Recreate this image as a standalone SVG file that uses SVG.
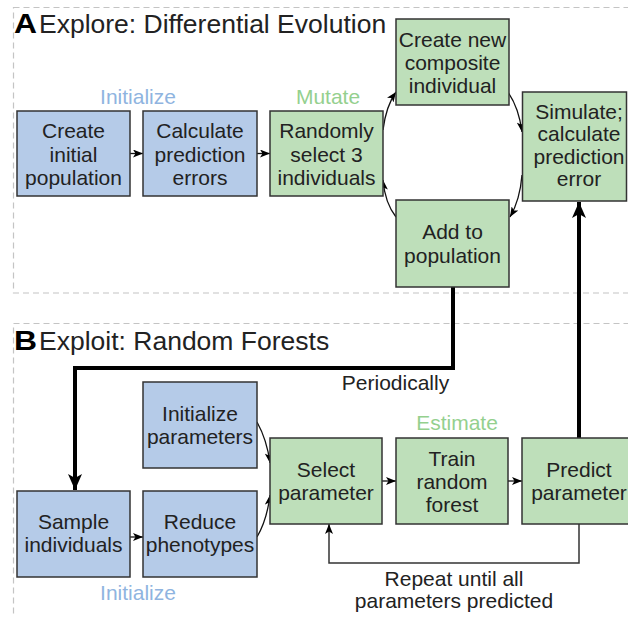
<svg xmlns="http://www.w3.org/2000/svg" width="628" height="617" viewBox="0 0 628 617">
<style>
text{font-family:"Liberation Sans",Arial,sans-serif;font-size:21px;fill:#222;text-anchor:middle}
.title{font-size:26.5px;text-anchor:start}
.lbl{font-weight:bold;font-size:27px;text-anchor:start;fill:#000}
.blue{fill:#b5cbe8;stroke:#333;stroke-width:1.5}
.green{fill:#bedfba;stroke:#333;stroke-width:1.5}
.frame{fill:none;stroke:#c4c4c4;stroke-width:1.2;stroke-dasharray:6 4}
.thin{fill:none;stroke:#111;stroke-width:1.3;marker-end:url(#ah)}
.thick{fill:none;stroke:#000;stroke-width:4;marker-end:url(#ahb)}
.loop{fill:none;stroke:#333;stroke-width:1.5;marker-end:url(#ah)}
.bl{fill:#8fb4e0}
.gl{fill:#94d08e}
</style>
<defs>
<marker id="ah" viewBox="0 0 10 8" refX="10" refY="4" markerWidth="10" markerHeight="8" markerUnits="userSpaceOnUse" orient="auto">
<path d="M0,0 L10,4 L0,8 L2.5,4 z" fill="#000"/>
</marker>
<marker id="ahb" viewBox="0 0 16 14" refX="16" refY="7" markerWidth="16" markerHeight="14" markerUnits="userSpaceOnUse" orient="auto">
<path d="M0,0 L16,7 L0,14 L4,7 z" fill="#000"/>
</marker>
</defs>
<g id="frames">
<rect class="frame" x="13.5" y="7.5" width="640" height="285.5"/>
<rect class="frame" x="13.5" y="323.5" width="640" height="320"/>
<text class="lbl" x="14" y="33" textLength="23" lengthAdjust="spacingAndGlyphs">A</text>
<text class="title" x="39" y="33">Explore: Differential Evolution</text>
<text class="lbl" x="14" y="350" textLength="23" lengthAdjust="spacingAndGlyphs">B</text>
<text class="title" x="39" y="350">Exploit: Random Forests</text>
</g>
<g id="labels">
<text class="bl" x="138" y="104">Initialize</text>
<text class="gl" x="328" y="104">Mutate</text>
<text class="gl" x="457" y="430">Estimate</text>
<text class="bl" x="138" y="600">Initialize</text>
<text x="395.5" y="390">Periodically</text>
<text x="454" y="586">Repeat until all</text>
<text x="454" y="608">parameters predicted</text>
</g>
<g id="connectors">
<path class="thin" d="M130,153.5 H143"/>
<path class="thin" d="M257,153.5 H270"/>
<path class="thin" d="M383,130 Q386,106 396,92"/>
<path class="thin" d="M508,92 Q519,108 522,132"/>
<path class="thin" d="M522,175 Q520,200 510,217"/>
<path class="thin" d="M396,217 Q385,203 383,180"/>
<path class="thick" d="M453,287 V368 H75 V490"/>
<path class="thick" d="M579,438 V202"/>
<path class="thin" d="M130,537 H143"/>
<path class="thin" d="M382,481 H396"/>
<path class="thin" d="M508,481 H522"/>
<path class="thin" d="M257,422 Q267,440 270,463"/>
<path class="thin" d="M257,537 Q267,520 270,495"/>
<path class="loop" d="M579,524 V563 H329 V524"/>
</g>
<g id="n-create-initial">
<rect class="blue" x="17" y="111" width="113" height="85"/>
<text x="73.5" y="138">Create</text>
<text x="73.5" y="161.5">initial</text>
<text x="73.5" y="185">population</text>
</g>
<g id="n-calc-errors">
<rect class="blue" x="143" y="111" width="114" height="85"/>
<text x="200" y="138">Calculate</text>
<text x="200" y="161.5">prediction</text>
<text x="200" y="185">errors</text>
</g>
<g id="n-randomly">
<rect class="green" x="270" y="111" width="113" height="85"/>
<text x="326.5" y="138">Randomly</text>
<text x="326.5" y="161.5">select 3</text>
<text x="326.5" y="185">individuals</text>
</g>
<g id="n-create-new">
<rect class="green" x="396" y="19" width="113" height="86"/>
<text x="452.5" y="47">Create new</text>
<text x="452.5" y="70">composite</text>
<text x="452.5" y="93">individual</text>
</g>
<g id="n-simulate">
<rect class="green" x="522.5" y="92" width="104" height="109"/>
<text x="579" y="118.5">Simulate;</text>
<text x="579" y="141">calculate</text>
<text x="579" y="163.5">prediction</text>
<text x="579" y="186">error</text>
</g>
<g id="n-add">
<rect class="green" x="396" y="200" width="113" height="87"/>
<text x="452.5" y="239">Add to</text>
<text x="452.5" y="262.5">population</text>
</g>
<g id="n-init-params">
<rect class="blue" x="143" y="382" width="114" height="86"/>
<text x="200" y="421">Initialize</text>
<text x="200" y="444">parameters</text>
</g>
<g id="n-select">
<rect class="green" x="270" y="438" width="112" height="86"/>
<text x="326" y="477">Select</text>
<text x="326" y="500">parameter</text>
</g>
<g id="n-train">
<rect class="green" x="396" y="438" width="112" height="86"/>
<text x="452" y="466">Train</text>
<text x="452" y="489">random</text>
<text x="452" y="512">forest</text>
</g>
<g id="n-predict">
<rect class="green" x="522" y="438" width="114" height="86"/>
<text x="579" y="477">Predict</text>
<text x="579" y="500">parameter</text>
</g>
<g id="n-sample">
<rect class="blue" x="17" y="491" width="113" height="86"/>
<text x="73.5" y="529">Sample</text>
<text x="73.5" y="552">individuals</text>
</g>
<g id="n-reduce">
<rect class="blue" x="143" y="491" width="114" height="86"/>
<text x="200" y="529">Reduce</text>
<text x="200" y="552">phenotypes</text>
</g>
</svg>
